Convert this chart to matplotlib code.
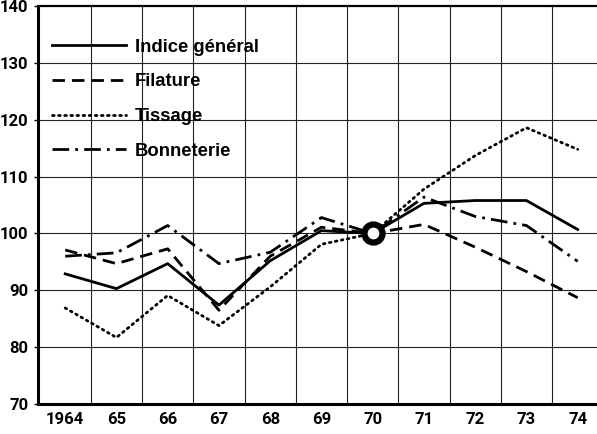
import matplotlib
matplotlib.use("Agg")
import matplotlib.pyplot as plt

years = [1964, 1965, 1966, 1967, 1968, 1969, 1970, 1971, 1972, 1973, 1974]
year_labels = ["1964", "65", "66", "67", "68", "69", "70", "71", "72", "73", "74"]

indice_general = [92.9, 90.3, 94.7, 87.4, 95.2, 100.5, 100.0, 105.3, 105.8, 105.8, 100.7]
filature = [97.1, 94.7, 97.3, 86.5, 96.0, 101.1, 100.0, 101.6, 97.6, 93.3, 88.7]
tissage = [86.9, 81.7, 89.1, 83.8, 90.6, 98.1, 100.0, 107.8, 113.7, 118.6, 114.8]
bonneterie = [96.0, 96.6, 101.4, 94.7, 96.7, 102.8, 100.0, 106.4, 103.0, 101.4, 95.1]

y_ticks = [70, 80, 90, 100, 110, 120, 130, 140]

tick_font = dict(family=["Roboto", "DejaVu Sans"], weight="bold", size=12)
legend_font = dict(family=["Liberation Sans", "DejaVu Sans"], weight="bold", size=13.3)

fig = plt.figure(figsize=(5.97, 4.34), dpi=100)
ax = fig.add_axes([0.0637, 0.069, 0.94, 0.917])

# grid: horizontal at tick values, vertical between years
for v in y_ticks[1:-1]:
    ax.axhline(v, color="#222222", lw=0.8, zorder=1)
for y in years:
    ax.axvline(y + 0.5, color="#222222", lw=0.8, zorder=1)

ax.plot(years, indice_general, color="black", lw=2.0, ls="-", label="Indice général", zorder=3)
ax.plot(years, filature, color="black", lw=2.0, ls=(0, (4.5, 2.5)), label="Filature", zorder=3)
ax.plot(years, tissage, color="black", lw=2.0, ls=(0, (0.6, 1.6)), label="Tissage",
        dash_capstyle="round", zorder=3)
ax.plot(years, bonneterie, color="black", lw=2.0, ls=(0, (6, 2.2, 1, 2.2)), label="Bonneterie",
        zorder=3)

# base year marker
ax.plot([years[6]], [indice_general[6]], marker="o", ms=13, mfc="white", mec="black",
        mew=4.5, zorder=5)

ax.set_xlim(1963.47, 1974.42)
ax.set_ylim(70, 140)
ax.set_yticks(y_ticks)
ax.set_yticklabels([str(v) for v in y_ticks], fontdict=tick_font)
ax.set_xticks(years)
ax.set_xticklabels(year_labels, fontdict=tick_font)
ax.tick_params(axis="x", length=0, pad=6)
ax.tick_params(axis="y", length=3, width=1, pad=4)

ax.spines["right"].set_visible(False)
ax.spines["left"].set_linewidth(2.2)
ax.spines["bottom"].set_linewidth(2.2)
ax.spines["top"].set_linewidth(1.6)

leg = ax.legend(loc="upper left", bbox_to_anchor=(0.025, 0.918), frameon=False,
                prop=legend_font, handlelength=4.0, handletextpad=0.5,
                labelspacing=0.96, borderpad=0, borderaxespad=0)

fig.savefig("out.png", dpi=100)
